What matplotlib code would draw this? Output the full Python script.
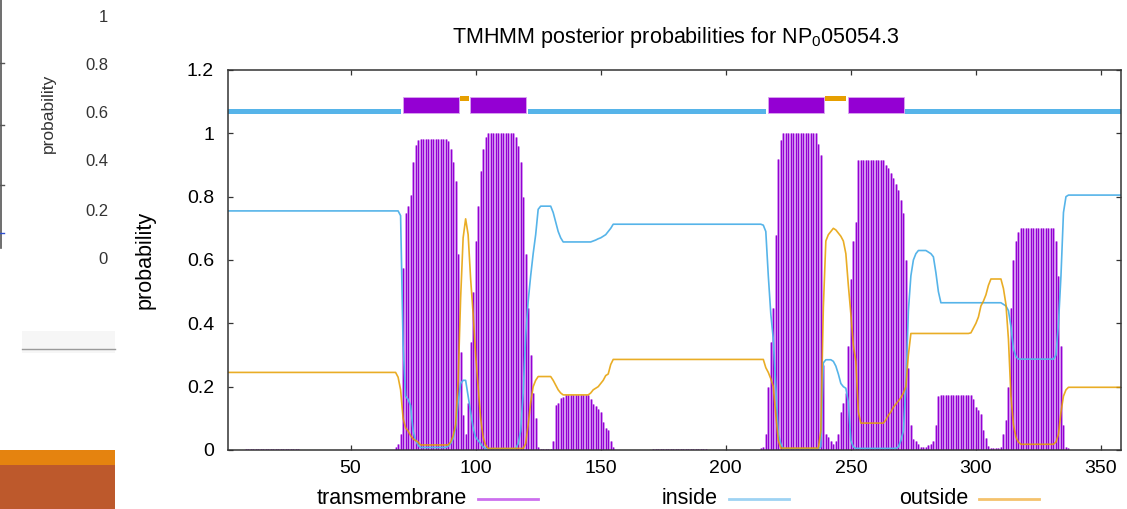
import matplotlib
import numpy as np

matplotlib.use("Agg")
import matplotlib.pyplot as plt
from matplotlib.lines import Line2D
from matplotlib.patches import Rectangle

W, H = 1127, 509

plt.rcParams["font.family"] = ["Liberation Sans", "DejaVu Sans"]
plt.rcParams["mathtext.default"] = "regular"

# posterior probabilities per residue (1..358)
transmembrane = (
    [0.0] * 7 + [0.004] * 22 + [0.0] * 38
    + [0.01, 0.02, 0.05, 0.575, 0.75, 0.77, 0.805, 0.91, 0.963, 0.98]
    + [0.982] * 11
    + [0.975, 0.95, 0.91, 0.85, 0.62, 0.31, 0.11, 0.05, 0.15, 0.34, 0.5, 0.66, 0.77, 0.88, 0.95, 0.99]
    + [1.0] * 11
    + [0.99, 0.96, 0.91, 0.80, 0.62, 0.45, 0.3, 0.18, 0.1, 0.01]
    + [0.004] * 5
    + [0.03, 0.142, 0.15, 0.163, 0.168]
    + [0.174] * 10
    + [0.16, 0.145, 0.14, 0.13, 0.12, 0.09, 0.068, 0.062, 0.03, 0.008]
    + [0.001] * 15 + [0.004] * 22 + [0.001] * 21
    + [0.005, 0.01, 0.05, 0.2, 0.34, 0.45, 0.68, 0.92, 0.98]
    + [1.0] * 14
    + [0.965, 0.93, 0.27, 0.05, 0.04, 0.03, 0.02, 0.03, 0.05, 0.12, 0.15, 0.18, 0.33, 0.54, 0.66, 0.72]
    + [0.915] * 11
    + [0.90, 0.89, 0.875, 0.86, 0.84, 0.82, 0.79, 0.75, 0.6, 0.26, 0.08, 0.035, 0.03, 0.02]
    + [0.01] * 3
    + [0.015, 0.02, 0.03, 0.08, 0.17]
    + [0.174] * 13
    + [0.16, 0.135, 0.125, 0.115, 0.063, 0.037, 0.012]
    + [0.005] * 4
    + [0.01, 0.05, 0.095, 0.2, 0.45, 0.6, 0.66, 0.69]
    + [0.70] * 14
    + [0.66, 0.55, 0.33, 0.08, 0.01, 0.005]
    + [0.0] * 21
)

inside = (
    [0.755] * 69
    + [0.74, 0.33, 0.17, 0.16, 0.14, 0.06, 0.03, 0.015]
    + [0.008] * 11
    + [0.012, 0.02, 0.035, 0.07, 0.15, 0.21, 0.22, 0.22, 0.17, 0.12, 0.07, 0.04, 0.03, 0.02, 0.01]
    + [0.004] * 13
    + [0.02, 0.06, 0.18, 0.36, 0.47, 0.55, 0.62, 0.68, 0.76]
    + [0.77] * 5
    + [0.75, 0.72, 0.69, 0.67]
    + [0.657] * 12
    + [0.66, 0.663, 0.667, 0.67, 0.675, 0.68, 0.69, 0.70]
    + [0.713] * 60
    + [0.71, 0.69, 0.55, 0.43, 0.35, 0.2, 0.05, 0.02]
    + [0.004] * 15
    + [0.01, 0.275, 0.285, 0.285, 0.285, 0.28, 0.265, 0.24, 0.21, 0.2, 0.195, 0.15, 0.03, 0.01]
    + [0.005] * 17
    + [0.01, 0.03, 0.06, 0.2, 0.44, 0.55, 0.6, 0.62]
    + [0.63] * 4
    + [0.625, 0.62, 0.61, 0.56, 0.5]
    + [0.465] * 25
    + [0.46, 0.455, 0.44, 0.39, 0.32, 0.295]
    + [0.287] * 15
    + [0.30, 0.40, 0.55, 0.75, 0.80]
    + [0.805] * 22
)

outside = (
    [0.245] * 68
    + [0.23, 0.19, 0.10, 0.07, 0.06, 0.045, 0.035, 0.03, 0.025]
    + [0.016] * 12
    + [0.025, 0.045, 0.08, 0.22, 0.48, 0.67, 0.73, 0.68, 0.54, 0.43, 0.30, 0.2, 0.1, 0.04, 0.015]
    + [0.005] * 15
    + [0.02, 0.08, 0.15, 0.2, 0.22]
    + [0.232] * 6
    + [0.22, 0.205, 0.19, 0.18]
    + [0.174] * 11
    + [0.18, 0.19, 0.195, 0.2, 0.21, 0.22, 0.235, 0.24, 0.27]
    + [0.286] * 61
    + [0.26, 0.245, 0.225, 0.2, 0.11, 0.03]
    + [0.006] * 16
    + [0.06, 0.45, 0.66, 0.68, 0.69, 0.70, 0.695, 0.685, 0.675, 0.66, 0.62, 0.52, 0.43, 0.33, 0.28, 0.12]
    + [0.085] * 10
    + [0.095, 0.11, 0.12, 0.135, 0.145, 0.155, 0.165, 0.18, 0.2, 0.3]
    + [0.368] * 24
    + [0.37, 0.385, 0.40, 0.42, 0.455, 0.47, 0.49, 0.52]
    + [0.54] * 5
    + [0.51, 0.46, 0.35, 0.17, 0.08, 0.04, 0.025]
    + [0.018] * 14
    + [0.025, 0.05, 0.12, 0.17, 0.19]
    + [0.198] * 22
)

# predicted topology: (region, first residue, last residue)
topology = [
    ("inside", 1, 70),
    ("TMhelix", 71, 93),
    ("outside", 94, 97),
    ("TMhelix", 98, 120),
    ("inside", 121, 216),
    ("TMhelix", 217, 239),
    ("outside", 240, 248),
    ("TMhelix", 249, 271),
    ("inside", 272, 358),
]

x_ticks = [50, 100, 150, 200, 250, 300, 350]
y_ticks = [0, 0.2, 0.4, 0.6, 0.8, 1.0, 1.2]
legend_labels = ["transmembrane", "inside", "outside"]
side_tick_labels = ["1", "0.8", "0.6", "0.4", "0.2", "0"]

TM_COLOR = "#9400d3"
TM_LIGHT = "#c87aec"
IN_COLOR = "#56b4e9"
OUT_COLOR = "#e69f00"
BAND = {"inside": (1.061, 0.016), "TMhelix": (1.065, 0.049), "outside": (1.103, 0.015)}
BAND_COLOR = {"inside": IN_COLOR, "TMhelix": TM_COLOR, "outside": OUT_COLOR}


def fx(px: float) -> float:
    return px / W


def fy(py: float) -> float:
    return 1 - py / H


fig = plt.figure(figsize=(W / 100, H / 100), dpi=100)

# leftover pieces of the previous slide on the left edge
fig.add_artist(Line2D([fx(1), fx(1)], [fy(0), fy(248)], color="#555555", lw=1.2))
for py in (63, 125, 185):
    fig.add_artist(Line2D([fx(0), fx(4)], [fy(py), fy(py)], color="#555555", lw=1.0))
fig.add_artist(Line2D([fx(0), fx(4)], [fy(233), fy(233)], color="#3050d0", lw=1.0))
for label, py in zip(side_tick_labels, (17, 66, 114, 162, 211, 259)):
    fig.text(fx(108), fy(py), label, ha="right", va="center", fontsize=12, color="#333333")
fig.text(fx(48), fy(113), "probability", rotation=90, ha="center", va="center", fontsize=12.5, color="#333333")
fig.add_artist(Rectangle((fx(22), fy(353)), fx(93), 22 / H, transform=fig.transFigure, color="#f6f6f6", lw=0))
fig.add_artist(Line2D([fx(22), fx(115)], [fy(349), fy(349)], color="#9a9a9a", lw=1.0))
fig.add_artist(Rectangle((0, fy(465)), fx(115), 15 / H, transform=fig.transFigure, color="#e5830f", lw=0))
fig.add_artist(Rectangle((0, 0), fx(115), fy(465), transform=fig.transFigure, color="#bd592c", lw=0))

ax = fig.add_axes([fx(228), fy(450), (1121 - 228) / W, (450 - 70) / H])
residues = np.arange(1, len(transmembrane) + 1)

ax.vlines(residues, 0, transmembrane, color=TM_LIGHT, lw=1.85)
ax.vlines(residues, 0, transmembrane, color=TM_COLOR, lw=0.75)
ax.plot(residues, inside, color=IN_COLOR, lw=1.2)
ax.plot(residues, outside, color=OUT_COLOR, lw=1.2, alpha=0.85)

for region, first, last in topology:
    y0, height = BAND[region]
    edge = "#d9a6f0" if region == "TMhelix" else "none"
    ax.broken_barh([(first - 0.2, last - first + 0.4)], (y0, height),
                   facecolors=BAND_COLOR[region], edgecolors=edge, lw=0.6)

ax.set_xlim(1, len(residues))
ax.set_ylim(0, 1.2)
ax.set_xticks(x_ticks)
ax.set_yticks(y_ticks)
ax.set_yticklabels([f"{v:g}" for v in y_ticks])
ax.tick_params(direction="in", length=3.6, width=0.9, top=True, right=True,
               labelsize=14, color="#333333")
ax.tick_params(axis="x", pad=7)
ax.tick_params(axis="y", pad=10)
for spine in ax.spines.values():
    spine.set_color("#333333")
    spine.set_linewidth(1.1)

fig.text(fx(676), fy(38), "TMHMM posterior probabilities for NP$_0$05054.3",
         ha="center", va="center", fontsize=15.5)
fig.text(fx(145), fy(260), "probability", rotation=90, ha="center", va="center", fontsize=15.5)

legend_colors = ["#cc70ee", "#9ed3f3", "#f4c26c"]
legend_text_right = [467, 718, 968]
for label, color, right in zip(legend_labels, legend_colors, legend_text_right):
    fig.text(fx(right), fy(499), label, ha="right", va="center", fontsize=15.5)
    fig.add_artist(Line2D([fx(right + 11), fx(right + 71)], [fy(499), fy(499)], color=color, lw=2.0))

fig.savefig("out.png", dpi=100)
plt.close(fig)
